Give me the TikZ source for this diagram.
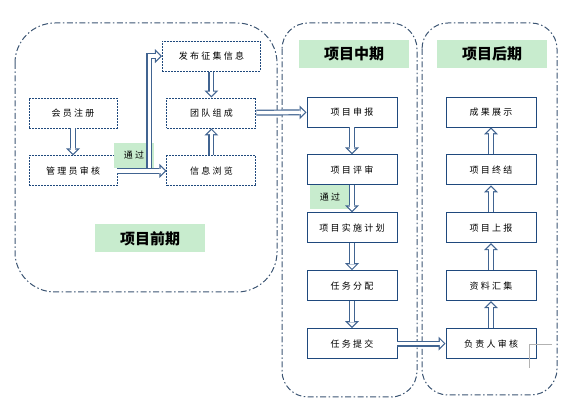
\documentclass[tikz,border=0pt]{standalone}
\usepackage{fontspec}
\newfontfamily\cjk{Noto Sans CJK SC}[LetterSpace=25]
\newfontfamily\cjktitle{Noto Sans CJK SC}
\usetikzlibrary{arrows.meta,positioning,calc}
\tikzset{>=latex}
\definecolor{boxblue}{RGB}{31,73,125}
\definecolor{arrowblue}{RGB}{65,100,145}
\definecolor{tagreen}{RGB}{200,236,206}
\definecolor{groupblue}{RGB}{60,85,115}

\begin{document}
\begin{tikzpicture}[x=1pt, y=-1pt, node distance=27pt, font=\cjk\fontsize{9}{10}\selectfont]
    \tikzstyle{stage}=[draw=boxblue, line width=0.9pt, minimum width=90pt, minimum height=30pt, inner sep=0pt]
    \tikzstyle{dstage}=[stage, dash pattern=on 2pt off 1pt]
    \tikzstyle{phase}=[fill=tagreen, minimum width=110pt, minimum height=28pt, font=\cjktitle\fontsize{15}{16}\selectfont\bfseries]
    \tikzstyle{pass}=[fill=tagreen, minimum width=40pt, minimum height=25pt, inner sep=0pt]
    \tikzstyle{flow}=[draw=arrowblue, line width=6pt, -{Triangle[length=7pt, width=14pt, line width=0pt]},
        postaction={draw=white, line width=3.6pt, shorten >=1.7pt, -{Triangle[length=4.1pt, width=8.2pt, line width=0pt]}}]
    \tikzstyle{group}=[draw=groupblue, line width=1pt, dash pattern=on 6pt off 2.5pt on 1.5pt off 2.5pt]

    \useasboundingbox (0,0) rectangle (566,403);

    % phase frames
    \draw[group, rounded corners=40pt] (15,23) rectangle (277,292);
    \draw[group, rounded corners=26pt] (282,23) rectangle (417,397);
    \draw[group, rounded corners=26pt] (422,23) rectangle (557,395);

    % early phase
    \node[dstage, minimum width=88pt] (zhuce) at (73,113) {会员注册};
    \node[dstage, minimum width=88pt] (shenhe) [below=of zhuce] {管理员审核};
    \node[dstage, minimum width=89pt] (tuandui) [right=49pt of zhuce] {团队组成};
    \node[dstage, minimum width=98pt] (fabu) [above=26pt of tuandui] {发布征集信息};
    \node[dstage, minimum width=89pt] (liulan) [below=of tuandui] {信息浏览};
    \node[pass] (pass1) at (134,155.5) {通过};
    \node[phase] (qianqi) at (150,238.5) {项目前期};

    % middle phase
    \node[phase] (zhongqi) at (354,54) {项目中期};
    \node[stage] (shenbao) at (352,112) {项目申报};
    \node[stage] (pingshen) [below=of shenbao] {项目评审};
    \node[stage] (jihua) [below=of pingshen] {项目实施计划};
    \node[stage] (fenpei) [below=of jihua] {任务分配};
    \node[stage] (tijiao) [below=of fenpei] {任务提交};
    \node[pass, minimum height=24pt] (pass2) at (330,197) {通过};

    % late phase
    \node[phase] (houqi) at (492,54) {项目后期};
    \node[stage] (chengguo) at (491,112) {成果展示};
    \node[stage] (zhongjie) [below=of chengguo] {项目终结};
    \node[stage] (shangbao) [below=of zhongjie] {项目上报};
    \node[stage] (huiji) [below=of shangbao] {资料汇集};
    \node[stage] (fuzeren) [below=of huiji] {负责人审核};

    \draw[flow] (shenhe.east) -- ++(32pt,0) |- (fabu.west);
    \path
    (zhuce) edge[flow] (shenhe)
    (shenhe) edge[flow] (liulan)
    (fabu) edge[flow] (tuandui)
    (liulan) edge[flow] (tuandui)
    (tuandui) edge[flow] (shenbao)
    (shenbao) edge[flow] (pingshen)
    (pingshen) edge[flow] (jihua)
    (jihua) edge[flow] (fenpei)
    (fenpei) edge[flow] (tijiao)
    (tijiao) edge[flow] (fuzeren)
    (fuzeren) edge[flow] (huiji)
    (huiji) edge[flow] (shangbao)
    (shangbao) edge[flow] (zhongjie)
    (zhongjie) edge[flow] (chengguo);

    \draw[gray!60, line width=0.8pt] (552,344) -| (529,368);
\end{tikzpicture}
\end{document}
